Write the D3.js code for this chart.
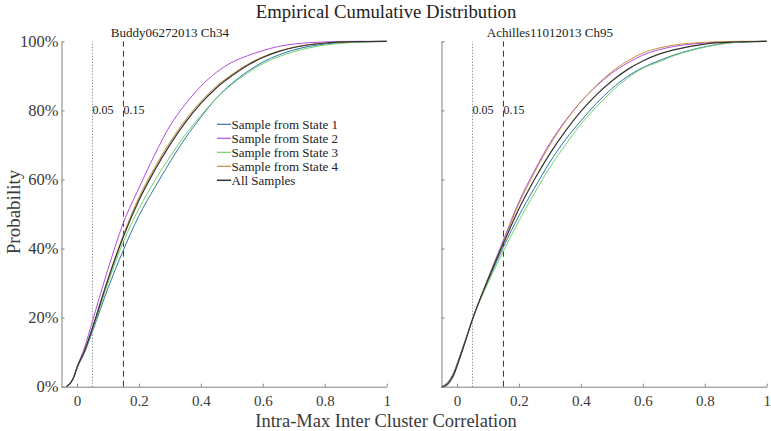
<!DOCTYPE html>
<html>
<head>
<meta charset="utf-8">
<script src="https://cdn.jsdelivr.net/npm/d3@7"></script>
<style>
  html, body { margin: 0; padding: 0; background: #fff; }
  svg { display: block; font-family: "Liberation Serif", "Times New Roman", serif; }
</style>
</head>
<body>
<svg id="chart" width="771" height="431"></svg>
<script>
// ---------- data ----------
const seriesNames = ["Sample from State 1", "Sample from State 2", "Sample from State 3", "Sample from State 4", "All Samples"];
const seriesColors = ["#2f74aa", "#b24ce4", "#6fd36a", "#c8913c", "#333333"];

const xTickValues = [0, 0.2, 0.4, 0.6, 0.8, 1];
const yTickValues = [0, 0.2, 0.4, 0.6, 0.8, 1];
const refLines = [0.05, 0.15];
const refLabels = ["0.05", "0.15"];
const panelTitles = ["Buddy06272013 Ch34", "Achilles11012013 Ch95"];

// Left panel (Buddy06272013 Ch34): x grid and cumulative percent per series
const leftX      = [-0.035, -0.02, -0.01, 0, 0.025, 0.05, 0.1, 0.15, 0.2, 0.25, 0.3, 0.35, 0.4, 0.45, 0.5, 0.55, 0.6, 0.65, 0.7, 0.8, 0.9, 1.0];
const leftState1 = [0, 1.2, 2.8, 5.3, 10.0, 16.0, 28.5, 39.6, 49.5, 57.5, 65.0, 72.0, 78.0, 83.5, 87.8, 91.2, 94.0, 96.0, 97.5, 99.2, 99.8, 100];
const leftState2 = [0, 1.2, 3.0, 5.7, 11.5, 19.0, 34.0, 47.5, 57.5, 67.0, 75.5, 81.8, 87.0, 91.0, 93.9, 95.8, 97.3, 98.5, 99.2, 99.8, 100, 100];
const leftState3 = [0, 1.2, 2.8, 5.4, 10.2, 16.5, 30.0, 42.0, 51.5, 59.5, 66.5, 73.0, 78.5, 83.5, 87.5, 90.8, 93.5, 95.5, 97.0, 98.9, 99.7, 100];
const leftState4 = [0, 1.2, 2.9, 5.5, 10.6, 17.2, 31.3, 44.0, 54.8, 63.3, 70.8, 77.2, 82.6, 87.0, 90.4, 93.3, 95.5, 97.1, 98.3, 99.5, 99.9, 100];
const leftAll    = [0, 1.2, 2.8, 5.5, 10.5, 17.0, 31.0, 43.5, 54.0, 62.5, 70.0, 76.5, 82.0, 86.5, 90.0, 93.0, 95.3, 97.0, 98.2, 99.5, 99.9, 100];

// Right panel (Achilles11012013 Ch95)
const rightX      = [-0.05, -0.04, -0.03, -0.02, -0.01, 0, 0.025, 0.05, 0.1, 0.15, 0.2, 0.25, 0.3, 0.35, 0.4, 0.45, 0.5, 0.55, 0.6, 0.65, 0.7, 0.8, 0.9, 1.0];
const rightState1 = [0, 0.5, 1.3, 2.5, 4.2, 6.6, 13.0, 19.5, 30.5, 40.5, 49.5, 57.5, 65.0, 71.5, 77.0, 82.0, 86.3, 89.8, 92.4, 94.3, 96.0, 98.4, 99.7, 100];
const rightState2 = [0, 0.2, 0.8, 2.0, 3.6, 6.0, 12.6, 19.5, 31.3, 42.5, 53.5, 62.5, 70.5, 77.0, 82.5, 87.0, 90.8, 93.7, 96.0, 97.5, 98.5, 99.5, 99.9, 100];
const rightState3 = [0, 0.3, 1.0, 2.2, 3.8, 6.2, 12.8, 19.5, 30.0, 39.3, 48.0, 56.0, 63.5, 70.0, 76.0, 81.0, 85.5, 89.3, 92.2, 94.0, 95.8, 98.3, 99.7, 100];
const rightState4 = [0, 0.0, 0.5, 1.6, 3.3, 5.8, 12.5, 19.5, 31.2, 42.0, 53.0, 62.0, 70.0, 76.8, 82.5, 87.2, 91.2, 94.3, 96.6, 98.0, 98.9, 99.7, 100, 100];
const rightAll    = [0, 0.2, 0.8, 2.0, 3.6, 6.0, 12.6, 19.5, 31.0, 41.5, 51.5, 60.0, 67.5, 74.0, 79.7, 84.5, 88.5, 91.8, 94.3, 96.2, 97.5, 99.2, 99.8, 100];

// ---------- drawing ----------
const svg = d3.select("#chart");
const textColor = "#3a3a3a";
const axisColor = "#808080";

const y = d3.scaleLinear().domain([0, 1]).range([386.7, 41.3]);

const panels = [
  { x: d3.scaleLinear().domain([-0.05, 1]).range([61.5, 386.7]), xs: leftX,
    series: [leftState1, leftState2, leftState3, leftState4, leftAll], yLabels: true, title: panelTitles[0], legend: true },
  { x: d3.scaleLinear().domain([-0.05, 1]).range([441.5, 766.7]), xs: rightX,
    series: [rightState1, rightState2, rightState3, rightState4, rightAll], yLabels: false, title: panelTitles[1], legend: false }
];

panels.forEach(p => {
  const g = svg.append("g");
  const x = p.x;

  // reference lines
  refLines.forEach((v, i) => {
    g.append("line")
      .attr("x1", x(v)).attr("x2", x(v))
      .attr("y1", y(0)).attr("y2", y(1))
      .attr("stroke", i === 0 ? "#666" : "#333")
      .attr("stroke-width", 1)
      .attr("stroke-dasharray", i === 0 ? "1,2" : "6,4");
    g.append("text")
      .attr("x", x(v)).attr("y", 114)
      .attr("font-size", 12).attr("fill", "#222")
      .text(refLabels[i]);
  });

  // curves
  const line = d3.line()
    .x((d, i) => x(p.xs[i]))
    .y(d => y(d / 100))
    .curve(d3.curveMonotoneX);
  p.series.forEach((s, k) => {
    g.append("path")
      .attr("d", line(s))
      .attr("fill", "none")
      .attr("stroke", seriesColors[k])
      .attr("stroke-width", k === 4 ? 1.2 : 1);
  });

  // axes
  const xAxis = d3.axisBottom(x).tickValues(xTickValues).tickFormat(d3.format("~g"))
    .tickSizeInner(-3).tickSizeOuter(0).tickPadding(8.5);
  const gx = g.append("g").attr("transform", `translate(0,${y(0)})`).call(xAxis);
  gx.selectAll("text").attr("font-size", 15).attr("fill", textColor).attr("font-family", "Liberation Serif");

  const yAxis = d3.axisLeft(y).tickValues(yTickValues)
    .tickFormat(p.yLabels ? d3.format(".0%") : () => "")
    .tickSizeInner(-3).tickSizeOuter(0).tickPadding(3);
  const gy = g.append("g").attr("transform", `translate(${x.range()[0]},0)`).call(yAxis);
  gy.selectAll("text").attr("font-size", 16.5).attr("fill", textColor).attr("font-family", "Liberation Serif");

  [gx, gy].forEach(a => {
    a.select(".domain").attr("stroke", axisColor);
    a.selectAll(".tick line").attr("stroke", axisColor);
  });

  // panel title
  g.append("text")
    .attr("x", x(0.3)).attr("y", 37)
    .attr("text-anchor", "middle")
    .attr("font-size", 13).attr("fill", "#222")
    .text(p.title);

  // legend
  if (p.legend) {
    const lg = g.append("g");
    seriesNames.forEach((name, k) => {
      const yy = 124.3 + k * 14;
      lg.append("line")
        .attr("x1", 217).attr("x2", 231)
        .attr("y1", yy).attr("y2", yy)
        .attr("stroke", seriesColors[k]).attr("stroke-width", k === 4 ? 1.5 : 1.2);
      lg.append("text")
        .attr("x", 231.5).attr("y", yy + 4.3)
        .attr("font-size", 13).attr("fill", "#222")
        .text(name);
    });
  }
});

// main title and axis labels
svg.append("text")
  .attr("x", 386).attr("y", 18)
  .attr("text-anchor", "middle")
  .attr("font-size", 18.7).attr("fill", "#222")
  .text("Empirical Cumulative Distribution");

svg.append("text")
  .attr("x", 386).attr("y", 426.5)
  .attr("text-anchor", "middle")
  .attr("font-size", 18.5).attr("fill", textColor)
  .text("Intra-Max Inter Cluster Correlation");

svg.append("text")
  .attr("transform", "translate(20,212) rotate(-90)")
  .attr("text-anchor", "middle")
  .attr("font-size", 19).attr("fill", textColor)
  .text("Probability");
</script>
</body>
</html>
